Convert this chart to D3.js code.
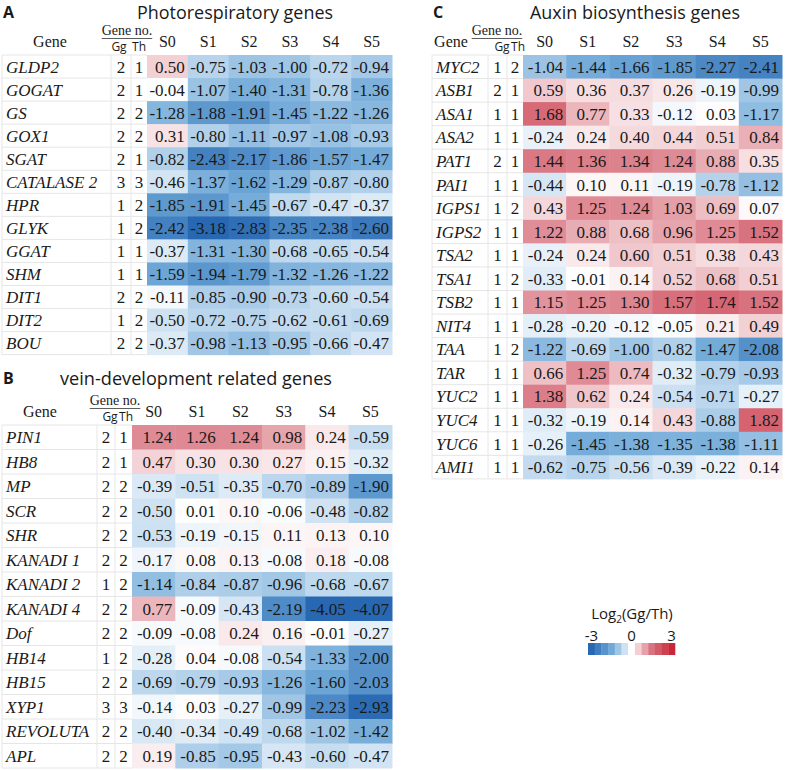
<!DOCTYPE html>
<meta charset="utf-8">
<script src="https://cdn.jsdelivr.net/npm/d3@7"></script>
<style>
body { margin: 0; background: #fff; }
text { fill: #1a1a1a; }
.serif { font-family: "Liberation Serif", "DejaVu Serif", serif; }
.sans { font-family: "Open Sans", "Noto Sans", sans-serif; }
.gene { font-style: italic; }
.grid { stroke: #e6e6e6; stroke-width: 1; }
</style>
<body>
<script>

var stages = ["S0", "S1", "S2", "S3", "S4", "S5"];

// A - photorespiratory genes
var photoGenes = ["GLDP2", "GOGAT", "GS", "GOX1", "SGAT", "CATALASE 2", "HPR", "GLYK", "GGAT", "SHM", "DIT1", "DIT2", "BOU"];
var photoGg = [2, 2, 2, 2, 2, 3, 1, 1, 1, 1, 2, 1, 2];
var photoTh = [1, 1, 2, 2, 1, 3, 2, 2, 1, 1, 2, 2, 2];
var photoValues = [
  [0.50, -0.75, -1.03, -1.00, -0.72, -0.94],
  [-0.04, -1.07, -1.40, -1.31, -0.78, -1.36],
  [-1.28, -1.88, -1.91, -1.45, -1.22, -1.26],
  [0.31, -0.80, -1.11, -0.97, -1.08, -0.93],
  [-0.82, -2.43, -2.17, -1.86, -1.57, -1.47],
  [-0.46, -1.37, -1.62, -1.29, -0.87, -0.80],
  [-1.85, -1.91, -1.45, -0.67, -0.47, -0.37],
  [-2.42, -3.18, -2.83, -2.35, -2.38, -2.60],
  [-0.37, -1.31, -1.30, -0.68, -0.65, -0.54],
  [-1.59, -1.94, -1.79, -1.32, -1.26, -1.22],
  [-0.11, -0.85, -0.90, -0.73, -0.60, -0.54],
  [-0.50, -0.72, -0.75, -0.62, -0.61, -0.69],
  [-0.37, -0.98, -1.13, -0.95, -0.66, -0.47]
];

// B - vein-development related genes
var veinGenes = ["PIN1", "HB8", "MP", "SCR", "SHR", "KANADI 1", "KANADI 2", "KANADI 4", "Dof", "HB14", "HB15", "XYP1", "REVOLUTA", "APL"];
var veinGg = [2, 2, 2, 2, 2, 2, 1, 2, 2, 1, 2, 3, 2, 2];
var veinTh = [1, 1, 2, 2, 2, 2, 2, 2, 2, 2, 2, 3, 2, 2];
var veinValues = [
  [1.24, 1.26, 1.24, 0.98, 0.24, -0.59],
  [0.47, 0.30, 0.30, 0.27, 0.15, -0.32],
  [-0.39, -0.51, -0.35, -0.70, -0.89, -1.90],
  [-0.50, 0.01, 0.10, -0.06, -0.48, -0.82],
  [-0.53, -0.19, -0.15, 0.11, 0.13, 0.10],
  [-0.17, 0.08, 0.13, -0.08, 0.18, -0.08],
  [-1.14, -0.84, -0.87, -0.96, -0.68, -0.67],
  [0.77, -0.09, -0.43, -2.19, -4.05, -4.07],
  [-0.09, -0.08, 0.24, 0.16, -0.01, -0.27],
  [-0.28, 0.04, -0.08, -0.54, -1.33, -2.00],
  [-0.69, -0.79, -0.93, -1.26, -1.60, -2.03],
  [-0.14, 0.03, -0.27, -0.99, -2.23, -2.93],
  [-0.40, -0.34, -0.49, -0.68, -1.02, -1.42],
  [0.19, -0.85, -0.95, -0.43, -0.60, -0.47]
];

// C - auxin biosynthesis genes
var auxinGenes = ["MYC2", "ASB1", "ASA1", "ASA2", "PAT1", "PAI1", "IGPS1", "IGPS2", "TSA2", "TSA1", "TSB2", "NIT4", "TAA", "TAR", "YUC2", "YUC4", "YUC6", "AMI1"];
var auxinGg = [1, 2, 1, 1, 2, 1, 1, 1, 1, 1, 1, 1, 1, 1, 1, 1, 1, 1];
var auxinTh = [2, 1, 1, 1, 1, 1, 2, 1, 1, 2, 1, 1, 2, 1, 1, 1, 1, 1];
var auxinValues = [
  [-1.04, -1.44, -1.66, -1.85, -2.27, -2.41],
  [0.59, 0.36, 0.37, 0.26, -0.19, -0.99],
  [1.68, 0.77, 0.33, -0.12, 0.03, -1.17],
  [-0.24, 0.24, 0.40, 0.44, 0.51, 0.84],
  [1.44, 1.36, 1.34, 1.24, 0.88, 0.35],
  [-0.44, 0.10, 0.11, -0.19, -0.78, -1.12],
  [0.43, 1.25, 1.24, 1.03, 0.69, 0.07],
  [1.22, 0.88, 0.68, 0.96, 1.25, 1.52],
  [-0.24, 0.24, 0.60, 0.51, 0.38, 0.43],
  [-0.33, -0.01, 0.14, 0.52, 0.68, 0.51],
  [1.15, 1.25, 1.30, 1.57, 1.74, 1.52],
  [-0.28, -0.20, -0.12, -0.05, 0.21, 0.49],
  [-1.22, -0.69, -1.00, -0.82, -1.47, -2.08],
  [0.66, 1.25, 0.74, -0.32, -0.79, -0.93],
  [1.38, 0.62, 0.24, -0.54, -0.71, -0.27],
  [-0.32, -0.19, 0.14, 0.43, -0.88, 1.82],
  [-0.26, -1.45, -1.38, -1.35, -1.38, -1.11],
  [-0.62, -0.75, -0.56, -0.39, -0.22, 0.14]
];

var legendSteps = [-3, -2.5, -2, -1.5, -1, -0.5, 0, 0.5, 1, 1.5, 2, 2.5, 3];
var legendTicks = [-3, 0, 3];

var width = 785, height = 770;

var color = d3.scaleLinear()
    .domain([-3, -1.5, 0, 1.5, 3])
    .range(["#2868b2", "#70a9d8", "#ffffff", "#d8737f", "#c8283a"])
    .clamp(true);

var svg = d3.select("body").append("svg")
    .attr("width", width)
    .attr("height", height);

// one table per panel
function drawPanel(p) {
  var g = svg.append("g");
  var n = p.genes.length;

  var y = d3.scaleBand()
      .domain(d3.range(n))
      .range([p.top, p.top + n * p.rowH]);
  var x = d3.scaleBand()
      .domain(stages)
      .range([p.thEnd, p.heatEnd]);

  var bottom = p.top + n * p.rowH;

  // letter + title
  g.append("text")
      .attr("class", "sans")
      .attr("x", p.x0 + 1)
      .attr("y", p.titleY - 1)
      .style("font-size", "16px")
      .style("font-weight", "bold")
      .text(p.letter);

  g.append("text")
      .attr("class", "sans")
      .attr("x", p.titleX)
      .attr("y", p.titleY)
      .attr("text-anchor", "middle")
      .attr("textLength", p.titleW)
      .attr("lengthAdjust", "spacingAndGlyphs")
      .style("font-size", "18px")
      .text(p.title);

  // header
  var hy = p.top - 8;
  g.append("text")
      .attr("class", "serif")
      .attr("x", p.geneHeadX)
      .attr("y", hy)
      .attr("text-anchor", "middle")
      .style("font-size", "16px")
      .text("Gene");

  var gn = g.append("text")
      .attr("class", "serif")
      .attr("x", p.noX)
      .attr("y", p.top - 20)
      .attr("text-anchor", "middle")
      .style("font-size", "14px")
      .text("Gene no.");
  var w = gn.node().getComputedTextLength();
  g.append("line")
      .attr("x1", p.noX - w / 2)
      .attr("x2", p.noX + w / 2)
      .attr("y1", p.top - 16.5)
      .attr("y2", p.top - 16.5)
      .attr("stroke", "#333")
      .attr("stroke-width", 0.8);

  g.selectAll(".sub")
      .data([["Gg", p.ggHeadX], ["Th", p.thHeadX]])
      .enter().append("text")
      .attr("class", "sans sub")
      .attr("x", function(d) { return d[1]; })
      .attr("y", p.top - 4)
      .attr("text-anchor", "middle")
      .style("font-size", "12px")
      .text(function(d) { return d[0]; });

  g.selectAll(".stage")
      .data(stages)
      .enter().append("text")
      .attr("class", "serif stage")
      .attr("x", function(d) { return x(d) + x.bandwidth() / 2; })
      .attr("y", hy)
      .attr("text-anchor", "middle")
      .style("font-size", "16px")
      .text(function(d) { return d; });

  // grid lines
  g.selectAll(".hgrid")
      .data(d3.range(n + 1))
      .enter().append("line")
      .attr("class", "grid")
      .attr("x1", p.x0)
      .attr("x2", p.thEnd)
      .attr("y1", function(i) { return p.top + i * p.rowH; })
      .attr("y2", function(i) { return p.top + i * p.rowH; });

  g.selectAll(".vgrid")
      .data([p.x0, p.geneEnd, p.ggEnd])
      .enter().append("line")
      .attr("class", "grid")
      .attr("x1", function(d) { return d; })
      .attr("x2", function(d) { return d; })
      .attr("y1", p.top)
      .attr("y2", bottom);

  // cells
  var cells = [];
  p.values.forEach(function(row, i) {
    row.forEach(function(v, j) { cells.push({row: i, stage: stages[j], v: v}); });
  });

  g.selectAll("rect.cell")
      .data(cells)
      .enter().append("rect")
      .attr("class", "cell")
      .attr("x", function(d) { return x(d.stage); })
      .attr("y", function(d) { return y(d.row); })
      .attr("width", x.bandwidth() + 0.5)
      .attr("height", y.bandwidth() + 0.5)
      .attr("fill", function(d) { return color(d.v); });

  var fs = 17;
  var base = function(i) { return y(i) + y.bandwidth() / 2 + 6; };

  g.selectAll("text.val")
      .data(cells)
      .enter().append("text")
      .attr("class", "serif val")
      .attr("x", function(d) { return x(d.stage) + x.bandwidth() - 3; })
      .attr("y", function(d) { return base(d.row); })
      .attr("text-anchor", "end")
      .style("font-size", fs + "px")
      .text(function(d) { return d.v.toFixed(2); });

  g.selectAll("text.gname")
      .data(p.genes)
      .enter().append("text")
      .attr("class", "serif gene gname")
      .attr("x", p.x0 + 4)
      .attr("y", function(d, i) { return base(i); })
      .style("font-size", fs + "px")
      .text(function(d) { return d; });

  g.selectAll("text.gg")
      .data(p.gg)
      .enter().append("text")
      .attr("class", "serif gg")
      .attr("x", (p.geneEnd + p.ggEnd) / 2)
      .attr("y", function(d, i) { return base(i); })
      .attr("text-anchor", "middle")
      .style("font-size", fs + "px")
      .text(function(d) { return d; });

  g.selectAll("text.th")
      .data(p.th)
      .enter().append("text")
      .attr("class", "serif th")
      .attr("x", (p.ggEnd + p.thEnd) / 2)
      .attr("y", function(d, i) { return base(i); })
      .attr("text-anchor", "middle")
      .style("font-size", fs + "px")
      .text(function(d) { return d; });
}

drawPanel({
  letter: "A", title: "Photorespiratory genes", titleX: 235, titleY: 19, titleW: 196,
  genes: photoGenes, gg: photoGg, th: photoTh, values: photoValues,
  x0: 2, geneEnd: 111, ggEnd: 131, thEnd: 147, heatEnd: 392,
  top: 55, rowH: 23.05,
  geneHeadX: 50, noX: 127, ggHeadX: 119, thHeadX: 139
});

drawPanel({
  letter: "B", title: "vein-development related genes", titleX: 196, titleY: 385, titleW: 272,
  genes: veinGenes, gg: veinGg, th: veinTh, values: veinValues,
  x0: 2, geneEnd: 97, ggEnd: 115, thEnd: 132, heatEnd: 392,
  top: 425, rowH: 24.5,
  geneHeadX: 40, noX: 115, ggHeadX: 110, thHeadX: 126
});

drawPanel({
  letter: "C", title: "Auxin biosynthesis genes", titleX: 635, titleY: 19, titleW: 210,
  genes: auxinGenes, gg: auxinGg, th: auxinTh, values: auxinValues,
  x0: 432, geneEnd: 488, ggEnd: 507, thEnd: 523, heatEnd: 782,
  top: 55, rowH: 23.55,
  geneHeadX: 451, noX: 497, ggHeadX: 502, thHeadX: 518
});

// legend
var lg = svg.append("g");
var lx = d3.scaleBand()
    .domain(legendSteps)
    .range([588, 675]);
var lv = d3.scaleLinear()
    .domain([-3, 3])
    .range([lx(-3) + lx.bandwidth() / 2, lx(3) + lx.bandwidth() / 2]);

var lt = lg.append("text")
    .attr("class", "sans")
    .attr("x", 632)
    .attr("y", 619)
    .attr("text-anchor", "middle")
    .style("font-size", "15px");
lt.append("tspan").text("Log");
lt.append("tspan").attr("dy", 4).style("font-size", "10px").text("2");
lt.append("tspan").attr("dy", -4).text("(Gg/Th)");

lg.selectAll("rect")
    .data(legendSteps)
    .enter().append("rect")
    .attr("x", function(d) { return lx(d); })
    .attr("y", 643)
    .attr("width", lx.bandwidth() + 0.3)
    .attr("height", 12)
    .attr("fill", function(d) { return color(d); });

lg.selectAll("text.tick")
    .data(legendTicks)
    .enter().append("text")
    .attr("class", "sans tick")
    .attr("x", function(d) { return lv(d); })
    .attr("y", 641)
    .attr("text-anchor", "middle")
    .style("font-size", "15px")
    .text(function(d) { return d; });

</script>
</body>
</html>
